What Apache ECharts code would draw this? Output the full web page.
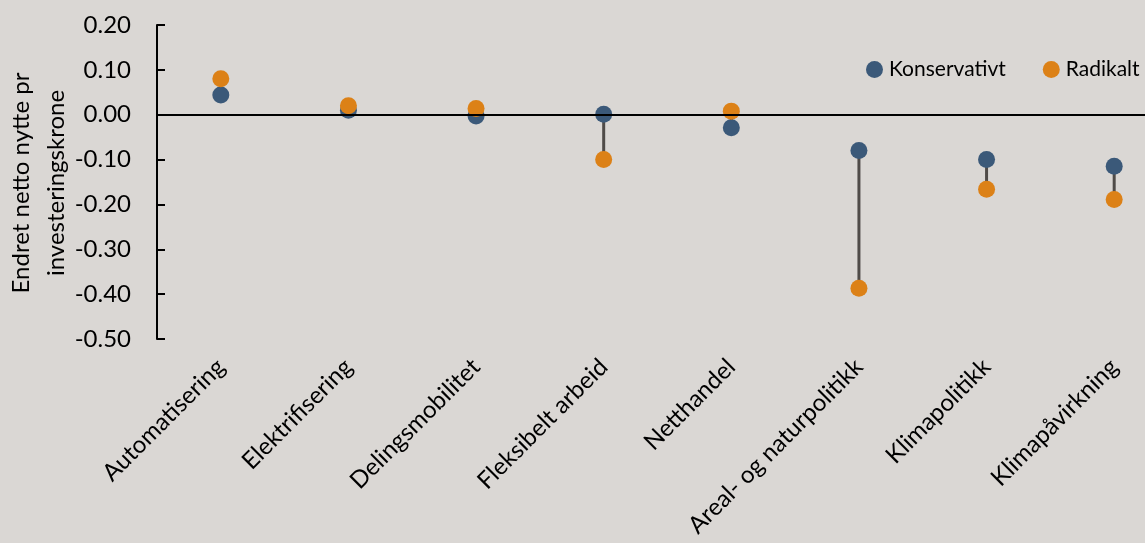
<!DOCTYPE html>
<html>
<head>
<meta charset="utf-8">
<script src="https://cdn.jsdelivr.net/npm/echarts@6/dist/echarts.min.js"></script>
<style>
html,body{margin:0;padding:0;background:#dad7d4;overflow:hidden;width:1145px;height:543px;}
#c{width:1178px;height:543px;}
</style>
</head>
<body>
<div id="c"></div>
<script>
const categories = ["Automatisering","Elektrifisering","Delingsmobilitet","Fleksibelt arbeid","Netthandel","Areal- og naturpolitikk","Klimapolitikk","Klimapåvirkning"];
const konservativt = [0.044, 0.010, -0.003, 0.001, -0.029, -0.080, -0.100, -0.115];
const radikalt = [0.080, 0.020, 0.014, -0.100, 0.008, -0.387, -0.166, -0.189];
const yTicks = {min: -0.5, max: 0.2, interval: 0.1};

const FONT = 'Lato';
const chart = echarts.init(document.getElementById('c'));
chart.setOption({
  backgroundColor: '#dad7d4',
  animation: false,
  textStyle: {fontFamily: FONT},
  grid: {left: 157, top: 25, bottom: 204, right: 0, containLabel: false},
  legend: {
    data: ['Konservativt','Radikalt'],
    left: 861, top: 54,
    icon: 'circle', itemWidth: 17, itemHeight: 17, itemGap: 37,
    textStyle: {fontFamily: FONT, fontSize: 21, color: '#000', padding: [0,0,0,1]}
  },
  xAxis: {
    type: 'category', data: categories, boundaryGap: true,
    axisLine: {show: false}, axisTick: {show: false},
    axisLabel: {rotate: 45, fontSize: 24, color: '#000', margin: 24, interval: 0, fontFamily: FONT}
  },
  yAxis: {
    type: 'value', min: yTicks.min, max: yTicks.max, interval: yTicks.interval,
    splitLine: {show: false},
    axisLine: {show: true, lineStyle: {color: '#000', width: 2}},
    axisTick: {show: true, inside: true, length: 8, lineStyle: {color: '#000', width: 2}},
    axisLabel: {fontSize: 24, color: '#000', margin: 26, fontFamily: FONT, formatter: v => v.toFixed(2)}
  },
  graphic: [
    {type: 'text', x: 21, y: 183, rotation: Math.PI/2, style: {text: 'Endret netto nytte pr', fontSize: 24, fontFamily: FONT, fill: '#000', textAlign: 'center', textVerticalAlign: 'middle'}},
    {type: 'text', x: 56, y: 183, rotation: Math.PI/2, style: {text: 'investeringskrone', fontSize: 24, fontFamily: FONT, fill: '#000', textAlign: 'center', textVerticalAlign: 'middle'}}
  ],
  series: [
    {
      type: 'custom', name: 'conn', z: 1, silent: true,
      data: categories.map((c, i) => [i, konservativt[i], radikalt[i]]),
      encode: {x: 0, y: [1, 2]},
      renderItem: function (params, api) {
        const a = api.coord([api.value(0), api.value(1)]);
        const b = api.coord([api.value(0), api.value(2)]);
        return {type: 'line', shape: {x1: a[0], y1: a[1], x2: b[0], y2: b[1]}, style: {stroke: '#4f4b48', lineWidth: 3}};
      },
      markLine: {
        silent: true, symbol: 'none', label: {show: false},
        lineStyle: {color: '#000', width: 2, type: 'solid'},
        data: [{yAxis: 0}]
      }
    },
    {type: 'scatter', name: 'Konservativt', z: 3, data: konservativt, symbolSize: 17, itemStyle: {color: '#3b5979', opacity: 1}},
    {type: 'scatter', name: 'Radikalt', z: 4, data: radikalt, symbolSize: 17, itemStyle: {color: '#dc8117', opacity: 1}}
  ]
});
</script>
</body>
</html>
